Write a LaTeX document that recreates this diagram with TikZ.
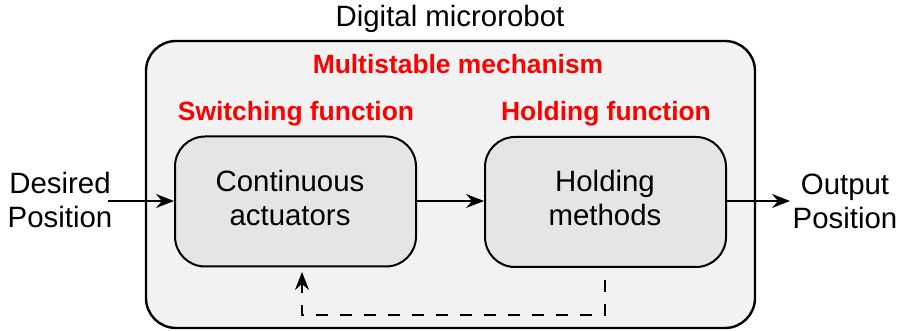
\documentclass[tikz,border=0pt]{standalone}
\usepackage{fontspec}
\setmainfont{Liberation Sans}
\usetikzlibrary{arrows.meta}
\definecolor{outerfill}{HTML}{F2F2F2}
\definecolor{innerfill}{HTML}{E5E5E5}
\begin{document}
\begin{tikzpicture}[x = 0.5pt, y = -0.5pt,
  font = \fontsize{14.7}{17}\selectfont,
  block/.style = {draw, line width = 1pt, fill = innerfill, rounded corners = 15pt,
    minimum width = 120.5pt, minimum height = 65pt},
  redlabel/.style = {text = red, font = \fontsize{13.2}{15}\selectfont\bfseries},
  arr/.style = {-{Stealth[length = 9pt, width = 7pt, inset = 3pt]}, line width = 0.6pt}]
\useasboundingbox (0,0) rectangle (899,331);

\draw [line width = 1.2pt, fill = outerfill, rounded corners = 15pt] (146,41) rectangle (755,328);
\node (title) at (450,19) {Digital microrobot};
\node [redlabel] (multi) at (458,64) {Multistable mechanism};
\node [redlabel] (switch) at (296,114) {Switching function};
\node [redlabel] (hold) at (606,114) {Holding function};

\node [block] (actuators) at (295.5,201.5) {};
\node [block] (methods) at (605.5,202) {};
\node [align = center] (acttext) at (290,198) {Continuous\\actuators};
\node [align = center] (methtext) at (605,198) {Holding\\methods};

\node [align = center] (desired) at (60,200) {Desired\\Position};
\node [align = center] (output) at (845,201) {Output\\Position};
\coordinate (in) at (108,201);
\coordinate (out) at (790,201);

\draw [arr] (in) -- (actuators.west |- in);
\draw [arr] (actuators.east |- in) -- (methods.west |- in);
\draw [arr] (methods.east |- out) -- (out);

\coordinate (fbstart) at (605,280);
\coordinate (fbend) at (302,272);
\draw [arr, dash pattern = on 6pt off 6pt]
  (fbstart) -- (fbstart |- 0,315) -- (fbend |- 0,315) -- (fbend);
\end{tikzpicture}
\end{document}
